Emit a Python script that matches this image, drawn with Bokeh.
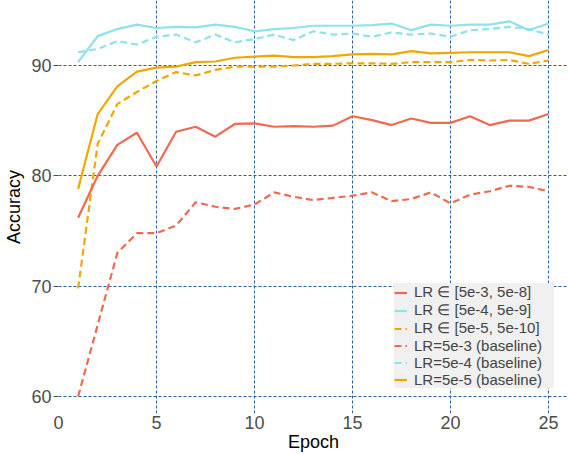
from bokeh.plotting import figure
from bokeh.models import Legend, LegendItem, Range1d
from bokeh.embed import file_html
from bokeh.resources import INLINE

epochs = list(range(1, 26))

lr_range_5e3 = [76.2, 80.0, 82.8, 83.9, 80.85, 84.0, 84.45, 83.55, 84.7, 84.75,
                84.45, 84.5, 84.45, 84.55, 85.4, 85.05, 84.6, 85.2, 84.8, 84.8,
                85.4, 84.6, 85.0, 85.0, 85.6]
lr_range_5e4 = [90.3, 92.66, 93.3, 93.7, 93.4, 93.5, 93.45, 93.7, 93.5, 93.1,
                93.3, 93.4, 93.6, 93.6, 93.6, 93.65, 93.8, 93.2, 93.7, 93.6,
                93.7, 93.7, 94.0, 93.2, 93.8]
lr_range_5e5 = [69.8, 82.9, 86.5, 87.6, 88.6, 89.4, 89.1, 89.6, 89.9, 89.9,
                89.9, 90.0, 90.15, 90.15, 90.2, 90.2, 90.15, 90.3, 90.3, 90.3,
                90.5, 90.45, 90.5, 90.15, 90.45]
base_5e3 = [60.0, 66.5, 73.0, 74.8, 74.8, 75.5, 77.6, 77.2, 77.0, 77.4,
            78.5, 78.1, 77.8, 78.0, 78.2, 78.5, 77.7, 77.9, 78.5, 77.5,
            78.3, 78.6, 79.1, 79.0, 78.6]
base_5e4 = [91.2, 91.5, 92.2, 91.9, 92.6, 92.8, 92.1, 92.8, 92.1, 92.4,
            92.8, 92.3, 93.1, 92.8, 92.9, 92.6, 93.0, 92.8, 92.9, 92.6,
            93.2, 93.3, 93.5, 93.3, 92.8]
base_5e5 = [78.8, 85.6, 88.1, 89.45, 89.8, 89.9, 90.3, 90.36, 90.7, 90.8,
            90.9, 90.75, 90.75, 90.85, 91.0, 91.06, 91.0, 91.3, 91.1, 91.15,
            91.2, 91.2, 91.2, 90.85, 91.4]

x_ticks = [0, 5, 10, 15, 20, 25]
y_ticks = [60, 70, 80, 90]

labels = ["LR \u2208 [5e-3, 5e-8]", "LR \u2208 [5e-4, 5e-9]", "LR \u2208 [5e-5, 5e-10]",
          "LR=5e-3 (baseline)", "LR=5e-4 (baseline)", "LR=5e-5 (baseline)"]

RED = "#EF6A4F"
CYAN = "#8DE2EE"
ORANGE = "#F0A800"
FONT = "Liberation Sans"

p = figure(width=568, height=454, output_backend="svg", toolbar_location=None,
           x_range=Range1d(0, 26.02), y_range=Range1d(58.46, 95.89),
           min_border_left=58, min_border_right=0, min_border_top=0, min_border_bottom=0)
p.outline_line_color = None
p.background_fill_color = "white"

dash = "7 4"
lw = 2.2
r_base3 = p.line(epochs, base_5e3, line_color=RED, line_width=lw, line_dash=dash)
r_base4 = p.line(epochs, base_5e4, line_color=CYAN, line_width=lw, line_dash=dash)
r_rng5 = p.line(epochs, lr_range_5e5, line_color=ORANGE, line_width=lw, line_dash=dash)
r_rng3 = p.line(epochs, lr_range_5e3, line_color=RED, line_width=lw)
r_rng4 = p.line(epochs, lr_range_5e4, line_color=CYAN, line_width=lw)
r_base5 = p.line(epochs, base_5e5, line_color=ORANGE, line_width=lw)

p.xaxis.ticker = x_ticks
p.yaxis.ticker = y_ticks
for ax in (p.xaxis[0], p.yaxis[0]):
    ax.axis_line_color = None
    ax.minor_tick_line_color = None
    ax.major_label_text_font = FONT
    ax.major_label_text_font_size = "18px"
    ax.major_label_text_color = "#4d4d4d"
    ax.axis_label_text_font = FONT
    ax.axis_label_text_font_size = "18px"
    ax.axis_label_text_font_style = "normal"
    ax.axis_label_text_color = "black"
p.xaxis.axis_label = "Epoch"
p.yaxis.axis_label = "Accuracy"
p.xaxis.major_tick_out = 0
p.xaxis.major_tick_in = 0
p.xaxis.major_label_standoff = 2
p.xaxis.axis_label_standoff = 0
p.yaxis.major_tick_out = 5
p.yaxis.major_tick_in = 0
p.yaxis.major_tick_line_color = "#4d4d4d"
p.yaxis.major_label_standoff = 2
p.yaxis.axis_label_standoff = 4

for g in (p.xgrid[0], p.ygrid[0]):
    g.grid_line_color = "#2d5f9c"
    g.grid_line_dash = "3 2"
    g.grid_line_width = 1

legend = Legend(items=[
    LegendItem(label=labels[0], renderers=[r_rng3]),
    LegendItem(label=labels[1], renderers=[r_rng4]),
    LegendItem(label=labels[2], renderers=[r_rng5]),
    LegendItem(label=labels[3], renderers=[r_base3]),
    LegendItem(label=labels[4], renderers=[r_base4]),
    LegendItem(label=labels[5], renderers=[r_base5]),
], location=(336, 25))
legend.margin = 0
legend.padding = 1
legend.spacing = 0
legend.glyph_width = 13
legend.glyph_height = 17
legend.label_height = 17
legend.label_width = 140
legend.label_standoff = 7
legend.label_text_font = FONT
legend.label_text_font_size = "15px"
legend.background_fill_color = "#f0f0f0"
legend.background_fill_alpha = 1
legend.border_line_color = None
p.add_layout(legend, "center")

open("out.html", "w").write(file_html(p, INLINE))
